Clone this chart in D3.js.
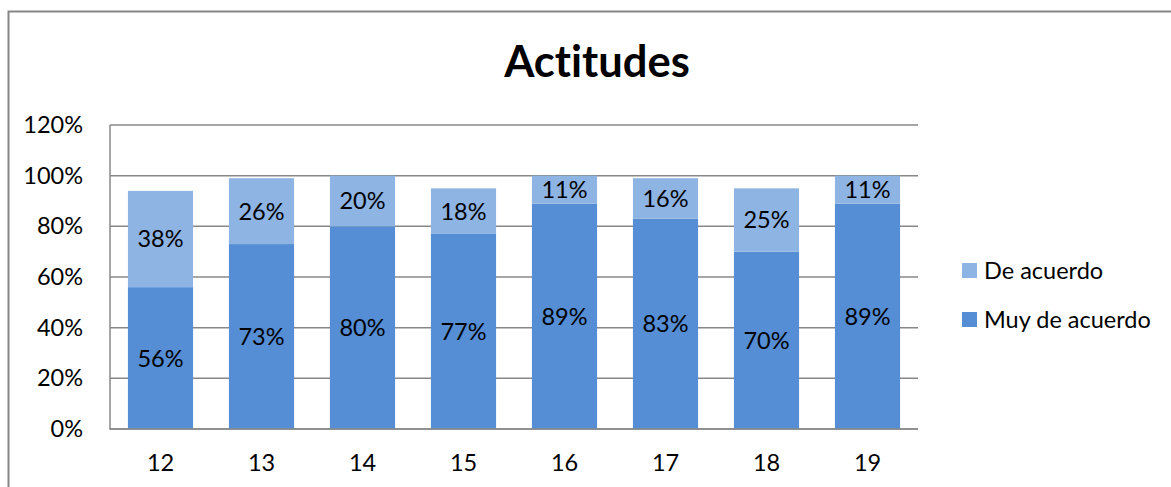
<!DOCTYPE html>
<html>
<head>
<meta charset="utf-8">
<script src="https://cdn.jsdelivr.net/npm/d3@7/dist/d3.min.js"></script>
<style>
  html, body { margin: 0; padding: 0; background: #fff; }
  svg { display: block; font-family: Lato, "Open Sans", sans-serif; font-variant-ligatures: none; }
</style>
</head>
<body>
<svg id="chart" width="1171" height="487"></svg>
<script>
// Survey items (question numbers)
const categories = ["12", "13", "14", "15", "16", "17", "18", "19"];
// Share answering "Muy de acuerdo" per item
const muyDeAcuerdo = [0.56, 0.73, 0.80, 0.77, 0.89, 0.83, 0.70, 0.89];
// Share answering "De acuerdo" per item
const deAcuerdo = [0.38, 0.26, 0.20, 0.18, 0.11, 0.16, 0.25, 0.11];
// Y axis ticks
const yTicks = [0, 0.2, 0.4, 0.6, 0.8, 1.0, 1.2];

const seriesNames = ["Muy de acuerdo", "De acuerdo"];
const colors = { "Muy de acuerdo": "#558ED5", "De acuerdo": "#8EB4E3" };

const FS = 23.5;
const svg = d3.select("#chart");
const W = 1171, H = 487;
const plot = { left: 110, right: 918, top: 125, bottom: 429 };

// Outer chart frame (extends past the right and bottom edges)
svg.append("rect")
  .attr("x", 8.5).attr("y", 11.5)
  .attr("width", W + 20).attr("height", H + 20)
  .attr("fill", "#fff").attr("stroke", "#868686").attr("stroke-width", 2);

// Title
svg.append("text")
  .attr("x", 597).attr("y", 77)
  .attr("text-anchor", "middle")
  .attr("font-size", 43.5).attr("font-weight", 700)
  .attr("fill", "#000")
  .text("Actitudes");

const x = d3.scaleBand().domain(categories).range([plot.left, plot.right]).padding(0);
const y = d3.scaleLinear().domain([0, 1.2]).range([plot.bottom, plot.top]);
const barW = x.bandwidth() * 0.645;

// Horizontal gridlines
svg.append("g").selectAll("line").data(yTicks).join("line")
  .attr("x1", plot.left).attr("x2", plot.right)
  .attr("y1", d => y(d)).attr("y2", d => y(d))
  .attr("stroke", "#888").attr("stroke-width", 1.5);

// Stacked data
const rows = categories.map((c, i) => ({
  cat: c, "Muy de acuerdo": muyDeAcuerdo[i], "De acuerdo": deAcuerdo[i]
}));
const stacked = d3.stack().keys(seriesNames)(rows);

const layers = svg.append("g").selectAll("g").data(stacked).join("g")
  .attr("fill", d => colors[d.key]);

layers.selectAll("rect").data(d => d).join("rect")
  .attr("x", d => x(d.data.cat) + (x.bandwidth() - barW) / 2)
  .attr("width", barW)
  .attr("y", d => y(d[1]))
  .attr("height", d => y(d[0]) - y(d[1]));

// Value labels centred in each segment
const fmt = d3.format(".0%");
const labels = svg.append("g").attr("font-size", FS).attr("fill", "#000").attr("text-anchor", "middle");
stacked.forEach(layer => {
  labels.selectAll(null).data(layer).join("text")
    .attr("x", d => x(d.data.cat) + x.bandwidth() / 2)
    .attr("y", d => (y(d[0]) + y(d[1])) / 2)
    .attr("dy", "0.36em")
    .text(d => fmt(d[1] - d[0]));
});

// Axis lines
svg.append("line")
  .attr("x1", plot.left).attr("x2", plot.left)
  .attr("y1", plot.top).attr("y2", plot.bottom)
  .attr("stroke", "#888").attr("stroke-width", 1.5);
svg.append("line")
  .attr("x1", plot.left - 0.75).attr("x2", plot.right)
  .attr("y1", plot.bottom).attr("y2", plot.bottom)
  .attr("stroke", "#888").attr("stroke-width", 1.5);

// Y axis labels
const yAxis = d3.axisLeft(y).tickValues(yTicks).tickFormat(fmt).tickSize(0).tickPadding(27);
const gy = svg.append("g").attr("transform", `translate(${plot.left},0)`).call(yAxis);
gy.select(".domain").remove();
gy.selectAll("text").attr("font-size", FS).attr("font-family", "Lato, sans-serif").attr("fill", "#000");

// X axis labels
const xAxis = d3.axisBottom(x).tickSize(0).tickPadding(25);
const gx = svg.append("g").attr("transform", `translate(0,${plot.bottom})`).call(xAxis);
gx.select(".domain").remove();
gx.selectAll("text").attr("font-size", FS).attr("font-family", "Lato, sans-serif").attr("fill", "#000");

// Legend
const legendItems = ["De acuerdo", "Muy de acuerdo"];
const legend = svg.append("g");
legendItems.forEach((name, i) => {
  const ly = 263 + i * 49;
  legend.append("rect")
    .attr("x", 962).attr("y", ly).attr("width", 15).attr("height", 15)
    .attr("fill", colors[name]);
  legend.append("text")
    .attr("x", 984).attr("y", ly + 7.5).attr("dy", "0.36em")
    .attr("font-size", FS).attr("fill", "#000")
    .text(name);
});
</script>
</body>
</html>
